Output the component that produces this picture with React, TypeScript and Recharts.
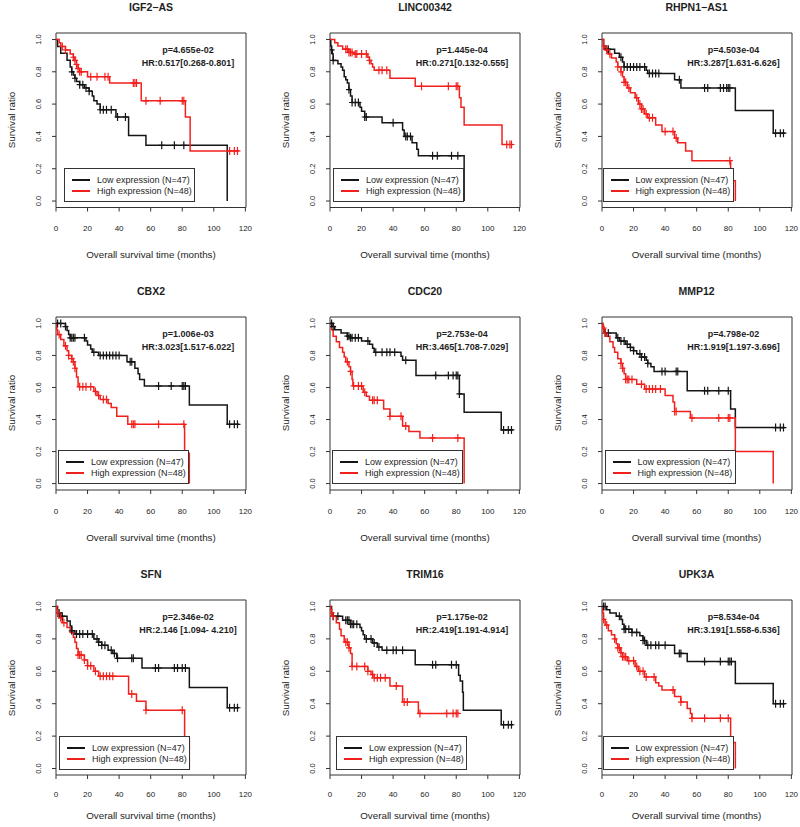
import React from 'react';
import { ComposedChart, Line, Scatter, XAxis, YAxis, ReferenceArea } from 'recharts';

// Kaplan-Meier steps: [months, survival]; censor marks: months
const IGF2_LOW = [[0, 1], [1, 0.957], [3, 0.915], [7, 0.872], [9, 0.83], [10, 0.8], [11, 0.78], [12, 0.76], [13, 0.74], [15, 0.72], [18, 0.7], [21, 0.68], [23, 0.65], [24, 0.62], [26, 0.6], [28, 0.565], [38, 0.52], [46, 0.405], [57, 0.345], [108.5, 0]];
const IGF2_LOW_CENS = [10, 12, 15, 17, 19, 21, 28, 30, 32, 35, 39, 44, 67, 75, 81];
const IGF2_HIGH = [[0, 1], [2, 0.98], [3, 0.957], [6, 0.935], [9, 0.91], [11, 0.89], [12, 0.87], [13, 0.845], [14, 0.82], [15, 0.8], [20, 0.77], [34, 0.73], [54, 0.62], [82, 0.52], [85, 0.31], [116, 0.31]];
const IGF2_HIGH_CENS = [4, 6, 11, 12, 13, 14, 15, 16, 22, 26, 31, 33, 49, 50, 51, 57, 66, 80, 81, 110, 113, 115];

const LINC_LOW = [[0, 1], [0.5, 0.96], [1, 0.935], [1.5, 0.91], [2, 0.87], [5, 0.85], [7, 0.83], [8, 0.81], [9, 0.77], [10, 0.75], [11, 0.73], [12, 0.69], [13, 0.65], [14, 0.61], [19, 0.58], [20, 0.555], [22, 0.52], [33, 0.485], [46, 0.44], [47, 0.4], [52, 0.36], [55, 0.32], [56, 0.28], [85, 0]];
const LINC_LOW_CENS = [1, 2, 12, 14, 16, 18, 22, 23, 40, 48, 49, 51, 65, 68, 77, 81];
const LINC_HIGH = [[0, 1], [3, 0.98], [5, 0.96], [8, 0.94], [12, 0.92], [15, 0.91], [24, 0.89], [25, 0.87], [26, 0.85], [27, 0.83], [28, 0.81], [38, 0.76], [54, 0.71], [82, 0.64], [83, 0.58], [85, 0.47], [109, 0.35], [116, 0.35]];
const LINC_HIGH_CENS = [10, 11, 12, 13, 14, 16, 17, 20, 23, 25, 31, 33, 36, 58, 75, 80, 81, 112, 114, 115];

const RHPN_LOW = [[0, 1], [1, 0.96], [2, 0.94], [8, 0.915], [11, 0.89], [13, 0.86], [14, 0.83], [28, 0.81], [29, 0.79], [46, 0.75], [50, 0.7], [84.5, 0.56], [108.5, 0.42], [116, 0.42]];
const RHPN_LOW_CENS = [3, 4, 12, 14, 16, 18, 20, 22, 24, 27, 30, 32, 34, 36, 49, 65, 67, 75, 77, 79, 80, 81, 110, 113, 115];
const RHPN_HIGH = [[0, 1], [1, 0.96], [2, 0.935], [4, 0.91], [6, 0.885], [9, 0.86], [10, 0.83], [12, 0.8], [13, 0.77], [14, 0.735], [16, 0.7], [18, 0.67], [21, 0.64], [23, 0.6], [25, 0.57], [27, 0.54], [29, 0.515], [34, 0.47], [38, 0.43], [46, 0.39], [48, 0.36], [53, 0.31], [57, 0.25], [81.5, 0.125], [84.5, 0]];
const RHPN_HIGH_CENS = [1, 3, 5, 10, 12, 14, 15, 17, 22, 24, 25, 26, 28, 30, 32, 40, 45, 47, 81];

const CBX2_LOW = [[0, 1], [6, 0.98], [7, 0.955], [8, 0.93], [9, 0.91], [19, 0.89], [20, 0.865], [22, 0.84], [23, 0.82], [27, 0.8], [45, 0.76], [50, 0.72], [52, 0.685], [53, 0.65], [56, 0.61], [84.5, 0.49], [108.5, 0.37], [116, 0.37]];
const CBX2_LOW_CENS = [1, 3, 6, 9, 10, 11, 12, 18, 24, 28, 30, 32, 34, 36, 38, 40, 47, 48, 65, 73, 80, 81, 82, 110, 113, 115];
const CBX2_HIGH = [[0, 1], [0.5, 0.96], [1, 0.93], [3, 0.9], [5, 0.86], [7, 0.83], [8, 0.8], [10, 0.78], [11, 0.76], [12, 0.72], [13, 0.665], [14, 0.605], [24, 0.575], [26, 0.55], [28, 0.525], [33, 0.5], [35, 0.475], [38.5, 0.42], [45.5, 0.37], [81.5, 0.19], [84.5, 0]];
const CBX2_HIGH_CENS = [2, 6, 8, 10, 11, 12, 15, 17, 19, 22, 25, 27, 30, 32, 48, 49, 50, 65, 81];

const CDC20_LOW = [[0, 1], [2, 0.98], [3, 0.96], [7, 0.94], [11, 0.92], [13, 0.91], [20, 0.89], [25, 0.87], [27, 0.845], [28, 0.82], [45, 0.795], [46, 0.77], [54.5, 0.675], [82, 0.56], [85, 0.445], [108.5, 0.335], [116, 0.335]];
const CDC20_LOW_CENS = [1, 2, 11, 12, 13, 14, 16, 18, 24, 29, 33, 36, 38, 41, 48, 67, 75, 78, 80, 81, 82, 110, 113, 115];
const CDC20_HIGH = [[0, 1], [1, 0.96], [2, 0.92], [4, 0.885], [6, 0.85], [8, 0.82], [9, 0.79], [10, 0.76], [12, 0.73], [13, 0.7], [14, 0.65], [14.5, 0.61], [21, 0.57], [23, 0.545], [25, 0.52], [34, 0.465], [38, 0.42], [46, 0.36], [50, 0.325], [57, 0.285], [85, 0]];
const CDC20_HIGH_CENS = [11, 13, 15, 18, 20, 22, 27, 28, 30, 38, 45, 48, 65, 81];

const MMP12_LOW = [[0, 1], [0.5, 0.98], [1, 0.96], [2, 0.94], [9, 0.91], [11, 0.89], [15, 0.87], [18, 0.85], [20, 0.83], [22, 0.81], [25, 0.79], [28, 0.77], [29, 0.75], [31, 0.73], [33, 0.7], [54, 0.58], [81.5, 0.465], [84.5, 0.35], [116, 0.35]];
const MMP12_LOW_CENS = [2, 4, 10, 12, 14, 16, 18, 20, 24, 25, 27, 29, 38, 40, 47, 48, 65, 67, 74, 80, 110, 113, 115];
const MMP12_HIGH = [[0, 1], [0.5, 0.97], [1.5, 0.94], [3, 0.92], [5, 0.885], [7, 0.85], [8, 0.82], [10, 0.78], [12, 0.75], [13, 0.72], [14, 0.685], [15, 0.65], [22, 0.62], [27, 0.59], [40, 0.55], [45, 0.51], [46, 0.45], [56, 0.41], [84.5, 0.2], [108.5, 0]];
const MMP12_HIGH_CENS = [1, 2, 12, 13, 15, 16, 17, 19, 25, 28, 30, 32, 34, 37, 46, 47, 57, 74, 80, 81];

const SFN_LOW = [[0, 1], [1, 0.96], [3, 0.94], [7, 0.91], [9, 0.88], [10, 0.85], [12, 0.83], [24, 0.8], [27, 0.78], [29, 0.76], [33, 0.73], [36, 0.71], [38.5, 0.68], [54.5, 0.62], [84.5, 0.5], [108.5, 0.375], [116, 0.375]];
const SFN_LOW_CENS = [2, 4, 10, 13, 15, 17, 20, 23, 26, 27, 29, 31, 35, 37, 39, 48, 49, 63, 65, 75, 77, 80, 82, 110, 113, 115];
const SFN_HIGH = [[0, 1], [0.5, 0.98], [1, 0.96], [2, 0.93], [4, 0.9], [7, 0.87], [9, 0.84], [11, 0.81], [12, 0.78], [13, 0.74], [14, 0.7], [18, 0.67], [20, 0.635], [24, 0.6], [27, 0.57], [46, 0.46], [51, 0.415], [57, 0.36], [81.5, 0.18], [84.5, 0]];
const SFN_HIGH_CENS = [1, 3, 5, 14, 15, 16, 18, 20, 22, 25, 28, 30, 32, 34, 36, 48, 57, 80];

const TRIM16_LOW = [[0, 1], [1, 0.96], [2, 0.94], [8, 0.915], [13, 0.89], [19, 0.87], [20, 0.85], [21, 0.825], [22, 0.8], [27, 0.775], [30, 0.75], [33, 0.73], [54, 0.64], [81.5, 0.575], [82.5, 0.54], [84, 0.47], [84.5, 0.36], [108.5, 0.27], [116, 0.27]];
const TRIM16_LOW_CENS = [2, 5, 10, 11, 12, 13, 14, 15, 17, 23, 26, 28, 31, 36, 40, 42, 46, 65, 67, 77, 80, 110, 113, 115];
const TRIM16_HIGH = [[0, 1], [0.5, 0.98], [1, 0.96], [2, 0.94], [4, 0.9], [6, 0.86], [7, 0.82], [9, 0.78], [12, 0.745], [13, 0.71], [14, 0.63], [24, 0.6], [26, 0.58], [28, 0.56], [38, 0.51], [46, 0.41], [56, 0.34], [81.5, 0.34]];
const TRIM16_HIGH_CENS = [1, 2, 10, 11, 12, 14, 17, 22, 24, 27, 28, 30, 32, 35, 42, 47, 49, 57, 74, 78, 80, 81];

const UPK3A_LOW = [[0, 1], [3, 0.98], [5, 0.96], [9, 0.94], [12, 0.92], [13, 0.89], [14, 0.86], [19, 0.84], [24, 0.82], [26, 0.79], [28, 0.76], [46, 0.71], [54, 0.66], [84.5, 0.525], [108.5, 0.4], [116, 0.4]];
const UPK3A_LOW_CENS = [1, 2, 11, 14, 15, 17, 19, 22, 26, 27, 29, 31, 34, 36, 40, 49, 50, 65, 75, 80, 81, 82, 110, 113, 115];
const UPK3A_HIGH = [[0, 1], [0.5, 0.96], [1, 0.92], [2, 0.885], [4, 0.85], [6, 0.825], [8, 0.8], [9, 0.77], [10, 0.745], [12, 0.715], [13, 0.69], [16, 0.665], [21, 0.63], [23, 0.6], [27, 0.565], [34, 0.53], [36, 0.51], [38, 0.485], [46, 0.445], [50, 0.41], [54, 0.37], [56, 0.34], [57, 0.31], [81.5, 0.16], [84.5, 0]];
const UPK3A_HIGH_CENS = [1, 3, 8, 10, 11, 12, 13, 14, 15, 17, 20, 22, 24, 26, 28, 33, 45, 50, 57, 65, 75, 80];

const X_TICKS = [0, 20, 40, 60, 80, 100, 120];
const Y_TICKS = [0, 0.2, 0.4, 0.6, 0.8, 1.0];
const LOW_LABEL = 'Low expression (N=47)';
const HIGH_LABEL = 'High expression (N=48)';

const PANELS = [
  { title: 'IGF2\u2212AS', p: 'p=4.655e-02', hr: 'HR:0.517[0.268-0.801]', low: IGF2_LOW, lowCens: IGF2_LOW_CENS, high: IGF2_HIGH, highCens: IGF2_HIGH_CENS, legendDx: 8 },
  { title: 'LINC00342', p: 'p=1.445e-04', hr: 'HR:0.271[0.132-0.555]', low: LINC_LOW, lowCens: LINC_LOW_CENS, high: LINC_HIGH, highCens: LINC_HIGH_CENS, legendDx: 3 },
  { title: 'RHPN1\u2212AS1', p: 'p=4.503e-04', hr: 'HR:3.287[1.631-6.626]', low: RHPN_LOW, lowCens: RHPN_LOW_CENS, high: RHPN_HIGH, highCens: RHPN_HIGH_CENS, legendDx: 1 },
  { title: 'CBX2', p: 'p=1.006e-03', hr: 'HR:3.023[1.517-6.022]', low: CBX2_LOW, lowCens: CBX2_LOW_CENS, high: CBX2_HIGH, highCens: CBX2_HIGH_CENS, legendDx: 2 },
  { title: 'CDC20', p: 'p=2.753e-04', hr: 'HR:3.465[1.708-7.029]', low: CDC20_LOW, lowCens: CDC20_LOW_CENS, high: CDC20_HIGH, highCens: CDC20_HIGH_CENS, legendDx: 2 },
  { title: 'MMP12', p: 'p=4.798e-02', hr: 'HR:1.919[1.197-3.696]', low: MMP12_LOW, lowCens: MMP12_LOW_CENS, high: MMP12_HIGH, highCens: MMP12_HIGH_CENS, legendDx: 3 },
  { title: 'SFN', p: 'p=2.346e-02', hr: 'HR:2.146 [1.094- 4.210]', low: SFN_LOW, lowCens: SFN_LOW_CENS, high: SFN_HIGH, highCens: SFN_HIGH_CENS, legendDx: 3 },
  { title: 'TRIM16', p: 'p=1.175e-02', hr: 'HR:2.419[1.191-4.914]', low: TRIM16_LOW, lowCens: TRIM16_LOW_CENS, high: TRIM16_HIGH, highCens: TRIM16_HIGH_CENS, legendDx: 6 },
  { title: 'UPK3A', p: 'p=8.534e-04', hr: 'HR:3.191[1.558-6.536]', low: UPK3A_LOW, lowCens: UPK3A_LOW_CENS, high: UPK3A_HIGH, highCens: UPK3A_HIGH_CENS, legendDx: 1 },
];

// layout of the plot boxes on the page
const BOX_LEFT = [56, 330, 601.5];
const BOX_TOP = [33, 316.5, 600];
const BOX_H = [174.5, 173, 175];
const BOX_W = 190;
const TICK_DY = [21, 21, 19];
const XLAB_DY = [47.5, 48, 41];
const X_MAX = 120.4;
const LOW_COLOR = '#151515';
const HIGH_COLOR = '#f2201c';
const FONT = '"Liberation Sans", Arial, Helvetica, sans-serif';

const toPts = (steps: number[][]) => steps.map(([t, s]) => ({ t, s }));

// survival value of a step curve at a censoring time
const censPts = (steps: number[][], times: number[]) =>
  times.map((t) => {
    let s = steps[0][1];
    for (const [ti, si] of steps) if (ti <= t) s = si;
    return { t, s };
  });

const Plus = (props: any) => {
  const { cx, cy, fill } = props;
  if (cx == null || cy == null) return null;
  return (
    <path
      d={`M${cx - 3},${cy}H${cx + 3}M${cx},${cy - 4}V${cy + 4}`}
      stroke={fill}
      strokeWidth={1.2}
      fill="none"
    />
  );
};

const centered = (x: number, y: number, extra: React.CSSProperties = {}): React.CSSProperties => ({
  position: 'absolute',
  left: x,
  top: y,
  transform: 'translate(-50%, -50%)',
  whiteSpace: 'nowrap',
  color: '#1e1e1e',
  lineHeight: 1,
  ...extra,
});

function Panel({ cfg, col, row }: { cfg: any; col: number; row: number }) {
  const boxH = BOX_H[row];
  const W = 266;
  const H = 33 + boxH + 30;
  const zeroY = 33 + boxH * (1.04 / 1.08);
  const legTop = zeroY - 33;
  const legLeft = 56 + cfg.legendDx;

  return (
    <div
      style={{
        position: 'absolute',
        left: BOX_LEFT[col] - 56,
        top: BOX_TOP[row] - 33,
        width: W,
        height: H + 30,
        fontFamily: FONT,
      }}
    >
      <ComposedChart width={W} height={H} margin={{ top: 33, right: W - 56 - BOX_W, bottom: 0, left: 26 }}>
        <XAxis
          dataKey="t"
          type="number"
          domain={[0, X_MAX]}
          ticks={X_TICKS}
          allowDataOverflow
          axisLine={false}
          stroke="#333"
          tickSize={4}
          height={30}
          tick={(p: any) => (
            <text x={p.x} y={33 + boxH + TICK_DY[row]} textAnchor="middle" dominantBaseline="central" fontSize={8} fill="#222">
              {p.payload.value}
            </text>
          )}
        />
        <YAxis
          dataKey="s"
          type="number"
          domain={[-0.04, 1.04]}
          ticks={Y_TICKS}
          allowDataOverflow
          axisLine={false}
          stroke="#333"
          tickSize={4}
          width={30}
          tick={(p: any) => (
            <text
              x={39}
              y={p.y}
              transform={`rotate(-90 39 ${p.y})`}
              textAnchor="middle"
              dominantBaseline="central"
              fontSize={7.5}
              fill="#222"
            >
              {Number(p.payload.value).toFixed(1)}
            </text>
          )}
        />
        <ReferenceArea x1={0} x2={X_MAX} y1={-0.04} y2={1.04} fill="none" stroke="#333" strokeWidth={1} ifOverflow="visible" />
        <Line data={toPts(cfg.low)} dataKey="s" type="stepAfter" stroke={LOW_COLOR} strokeWidth={1.5} dot={false} isAnimationActive={false} />
        <Line data={toPts(cfg.high)} dataKey="s" type="stepAfter" stroke={HIGH_COLOR} strokeWidth={1.5} dot={false} isAnimationActive={false} />
        <Scatter data={censPts(cfg.low, cfg.lowCens)} dataKey="s" fill={LOW_COLOR} shape={Plus} isAnimationActive={false} />
        <Scatter data={censPts(cfg.high, cfg.highCens)} dataKey="s" fill={HIGH_COLOR} shape={Plus} isAnimationActive={false} />
      </ComposedChart>

      <div style={centered(56 + BOX_W / 2, 7, { fontSize: 10.5, fontWeight: 'bold' })}>{cfg.title}</div>
      <div style={centered(56 + 132, 33 + 17, { fontSize: 9, fontWeight: 'bold' })}>{cfg.p}</div>
      <div style={centered(56 + 132, 33 + 30, { fontSize: 9, fontWeight: 'bold' })}>{cfg.hr}</div>
      <div style={centered(12, 33 + boxH / 2, { fontSize: 9.8, transform: 'translate(-50%, -50%) rotate(-90deg)' })}>
        Survival ratio
      </div>
      <div style={centered(56 + BOX_W / 2, 33 + boxH + XLAB_DY[row], { fontSize: 9.8 })}>
        Overall survival time (months)
      </div>

      <div
        style={{
          position: 'absolute',
          left: legLeft,
          top: legTop,
          width: 129,
          height: 32,
          background: '#fff',
          border: '1px solid #333',
          fontSize: 9,
          color: '#1e1e1e',
        }}
      >
        {[
          { label: LOW_LABEL, color: LOW_COLOR, y: 11 },
          { label: HIGH_LABEL, color: HIGH_COLOR, y: 22 },
        ].map((e) => (
          <React.Fragment key={e.label}>
            <div style={{ position: 'absolute', left: 7, top: e.y - 1, width: 18, height: 2, background: e.color }} />
            <div style={{ position: 'absolute', left: 32, top: e.y - 5, lineHeight: '10px', whiteSpace: 'nowrap' }}>{e.label}</div>
          </React.Fragment>
        ))}
      </div>
    </div>
  );
}

export default function App() {
  return (
    <div style={{ position: 'absolute', left: 0, top: 0, width: 800, height: 827, background: '#fff' }}>
      {PANELS.map((cfg, i) => (
        <Panel key={cfg.title} cfg={cfg} col={i % 3} row={Math.floor(i / 3)} />
      ))}
    </div>
  );
}
